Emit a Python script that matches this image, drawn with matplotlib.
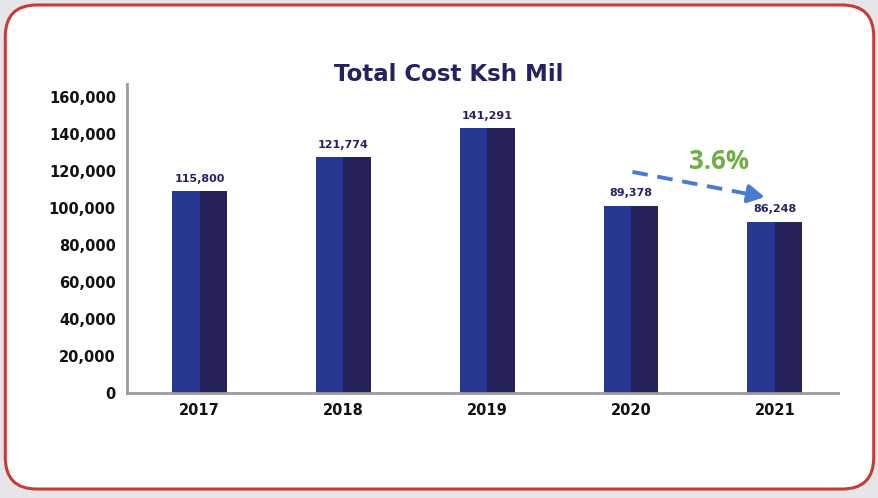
import matplotlib
matplotlib.use("Agg")
import matplotlib.pyplot as plt
from matplotlib.patches import FancyBboxPatch

years = ["2017", "2018", "2019", "2020", "2021"]
bar_heights = [109000, 127300, 143000, 101000, 92500]   # heights as drawn in picture
value_labels = ["115,800", "121,774", "141,291", "89,378", "86,248"]
y_ticks = [0, 20000, 40000, 60000, 80000, 100000, 120000, 140000, 160000]
change_label = "3.6%"
title = "Total Cost Ksh Mil"

light = "#283791"
dark = "#25215a"
navy = "#262262"
fnt = "DejaVu Sans"

fig = plt.figure(figsize=(8.79, 4.98), dpi=100)
fig.patch.set_facecolor("#e6e6ea")
border = FancyBboxPatch((0.006, 0.018), 0.988, 0.972, boxstyle="round,pad=0,rounding_size=0.036",
                        transform=fig.transFigure, facecolor="white", edgecolor="#c73a3c",
                        linewidth=2.2, mutation_aspect=879/498, zorder=-5)
fig.patches.append(border)

ax = fig.add_axes([0.1445, 0.2108, 0.8085, 0.6205])
ax.set_zorder(5)
ax.set_facecolor("none")
w = 0.191
x = list(range(len(years)))
ax.bar([i - w / 2 for i in x], bar_heights, width=w, color=light, linewidth=0)
ax.bar([i + w / 2 for i in x], bar_heights, width=w, color=dark, linewidth=0)

for i, (h, lab) in enumerate(zip(bar_heights, value_labels)):
    ax.annotate(lab, (i, h), xytext=(0, 5.5), textcoords="offset points", ha="center", va="bottom",
                fontsize=8, fontweight="bold", color=navy, family=fnt)

ax.set_xlim(-0.504, 4.437)
ax.set_ylim(0, 167000)
ax.set_yticks(y_ticks)
ax.set_yticklabels([f"{v:,}" for v in y_ticks], fontsize=10.5, fontweight="bold", family=fnt, color="#111111")
ax.set_xticks(x)
ax.set_xticklabels(years, fontsize=10.5, fontweight="bold", family=fnt, color="#111111")
ax.tick_params(axis="both", length=0)
ax.tick_params(axis="y", pad=8)
ax.tick_params(axis="x", pad=7)
for s in ["top", "right"]:
    ax.spines[s].set_visible(False)
for s in ["left", "bottom"]:
    ax.spines[s].set_color("#9a9a9a")
    ax.spines[s].set_linewidth(2)

arrow_col = "#4a7bd0"
x0, y0, x1, y1 = 3.01, 119500, 3.93, 105900
xm = x0 + (x1 - x0) * 0.88
ym = y0 + (y1 - y0) * 0.88
ax.plot([x0, xm], [y0, ym], color=arrow_col, lw=2.8, linestyle=(0, (4, 2.5)), solid_capstyle="butt",
        dash_capstyle="butt")
ax.annotate("", xy=(x1, y1), xytext=(xm, ym),
            arrowprops=dict(arrowstyle="-|>,head_length=1.0,head_width=0.55", color=arrow_col,
                            lw=2.8, shrinkA=0, shrinkB=0))
ax.text(3.61, 125000, change_label, ha="center", va="center", fontsize=18.5, fontweight="bold",
        color="#6fae45", family="Open Sans")

fig.text(0.511, 0.85, title, ha="center", va="center", fontsize=16.5, fontweight="bold",
         color=navy, family=fnt)

fig.savefig("out.png", dpi=100, facecolor=fig.get_facecolor())
